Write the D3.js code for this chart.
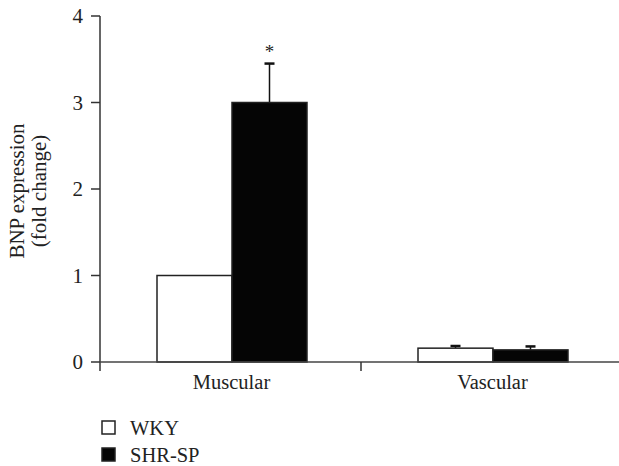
<!DOCTYPE html>
<html>
<head>
<meta charset="utf-8">
<script src="https://cdn.jsdelivr.net/npm/d3@7"></script>
<style>
  html, body { margin: 0; padding: 0; background: #fff; }
  svg { display: block; }
  text { font-family: "Liberation Serif", "DejaVu Serif", serif; fill: #222; }
</style>
</head>
<body>
<svg id="chart" width="619" height="466"></svg>
<script>
const categories = ["Muscular", "Vascular"];
const series = ["WKY", "SHR-SP"];
const wkyValues = [1.0, 0.16];
const shrValues = [3.0, 0.14];
const wkyErrors = [0, 0.025];
const shrErrors = [0.45, 0.04];
const yTicks = [0, 1, 2, 3, 4];
const significance = ["", "*"]; // per series, Muscular only
const yLabelLines = ["BNP expression", "(fold change)"];

const svg = d3.select("#chart");
const axisColor = "#333";

const y = d3.scaleLinear().domain([0, 4]).range([362, 16]);
const x0 = d3.scaleBand().domain(categories).range([100, 622]).padding(0);
const x1 = d3.scaleBand().domain(series).range([57, 207]).padding(0);

const rows = categories.map((c, i) => ({
  cat: c,
  bars: [
    { s: "WKY", v: wkyValues[i], e: wkyErrors[i], fill: "#fff" },
    { s: "SHR-SP", v: shrValues[i], e: shrErrors[i], fill: "#050505" }
  ]
}));

// bars
const g = svg.append("g");
rows.forEach((r, ci) => {
  r.bars.forEach((b, si) => {
    const bx = x0(r.cat) + x1(b.s);
    const bw = x1.bandwidth();
    const cx = bx + bw / 2;
    if (b.e > 0) {
      g.append("line").attr("x1", cx).attr("x2", cx)
        .attr("y1", y(b.v)).attr("y2", y(b.v + b.e))
        .attr("stroke", "#111").attr("stroke-width", 1.5);
      g.append("line").attr("x1", cx - 5).attr("x2", cx + 5)
        .attr("y1", y(b.v + b.e)).attr("y2", y(b.v + b.e))
        .attr("stroke", "#111").attr("stroke-width", 2.5);
    }
    g.append("rect")
      .attr("x", bx).attr("y", y(b.v))
      .attr("width", bw).attr("height", y(0) - y(b.v))
      .attr("fill", b.fill).attr("stroke", "#222").attr("stroke-width", 1.5);
    if (ci === 0 && significance[si]) {
      g.append("text").attr("x", cx).attr("y", y(b.v + b.e) - 6)
        .attr("text-anchor", "middle").attr("font-size", 19).attr("fill", "#555")
        .text(significance[si]);
    }
  });
});

// y axis
const yAxis = svg.append("g");
yAxis.append("line").attr("x1", 100).attr("x2", 100).attr("y1", y(4)).attr("y2", 371)
  .attr("stroke", axisColor).attr("stroke-width", 1.5);
yTicks.forEach(t => {
  yAxis.append("line").attr("x1", 91).attr("x2", 100).attr("y1", y(t)).attr("y2", y(t))
    .attr("stroke", axisColor).attr("stroke-width", 1.5);
  yAxis.append("text").attr("x", 83).attr("y", y(t)).attr("dy", "0.34em")
    .attr("text-anchor", "end").attr("font-size", 21).text(t);
});

// x axis
const xAxis = svg.append("g");
xAxis.append("line").attr("x1", 100).attr("x2", 619).attr("y1", y(0)).attr("y2", y(0))
  .attr("stroke", "#444").attr("stroke-width", 1.5);
categories.forEach((c, i) => {
  const bx = x0(c);
  if (i > 0) {
    xAxis.append("line").attr("x1", bx).attr("x2", bx).attr("y1", y(0)).attr("y2", 371)
      .attr("stroke", axisColor).attr("stroke-width", 1.5);
  }
  xAxis.append("text").attr("x", bx + x0.bandwidth() / 2 + 1).attr("y", 389)
    .attr("text-anchor", "middle").attr("font-size", 20.5).text(c);
});

// y label
const yl = svg.append("text").attr("transform", "translate(24,191) rotate(-90)")
  .attr("text-anchor", "middle").attr("font-size", 21);
yLabelLines.forEach((l, i) => {
  yl.append("tspan").attr("x", 0).attr("dy", i === 0 ? 0 : 22).text(l);
});

// legend
const legend = svg.append("g");
const legendFills = ["#fff", "#050505"];
series.forEach((s, i) => {
  const ly = 421 + i * 27;
  legend.append("rect").attr("x", 102).attr("y", ly).attr("width", 13).attr("height", 13)
    .attr("fill", legendFills[i]).attr("stroke", "#222").attr("stroke-width", 1.5);
  legend.append("text").attr("x", 130).attr("y", ly + 13.5).attr("font-size", 20.5).text(s);
});
</script>
</body>
</html>
